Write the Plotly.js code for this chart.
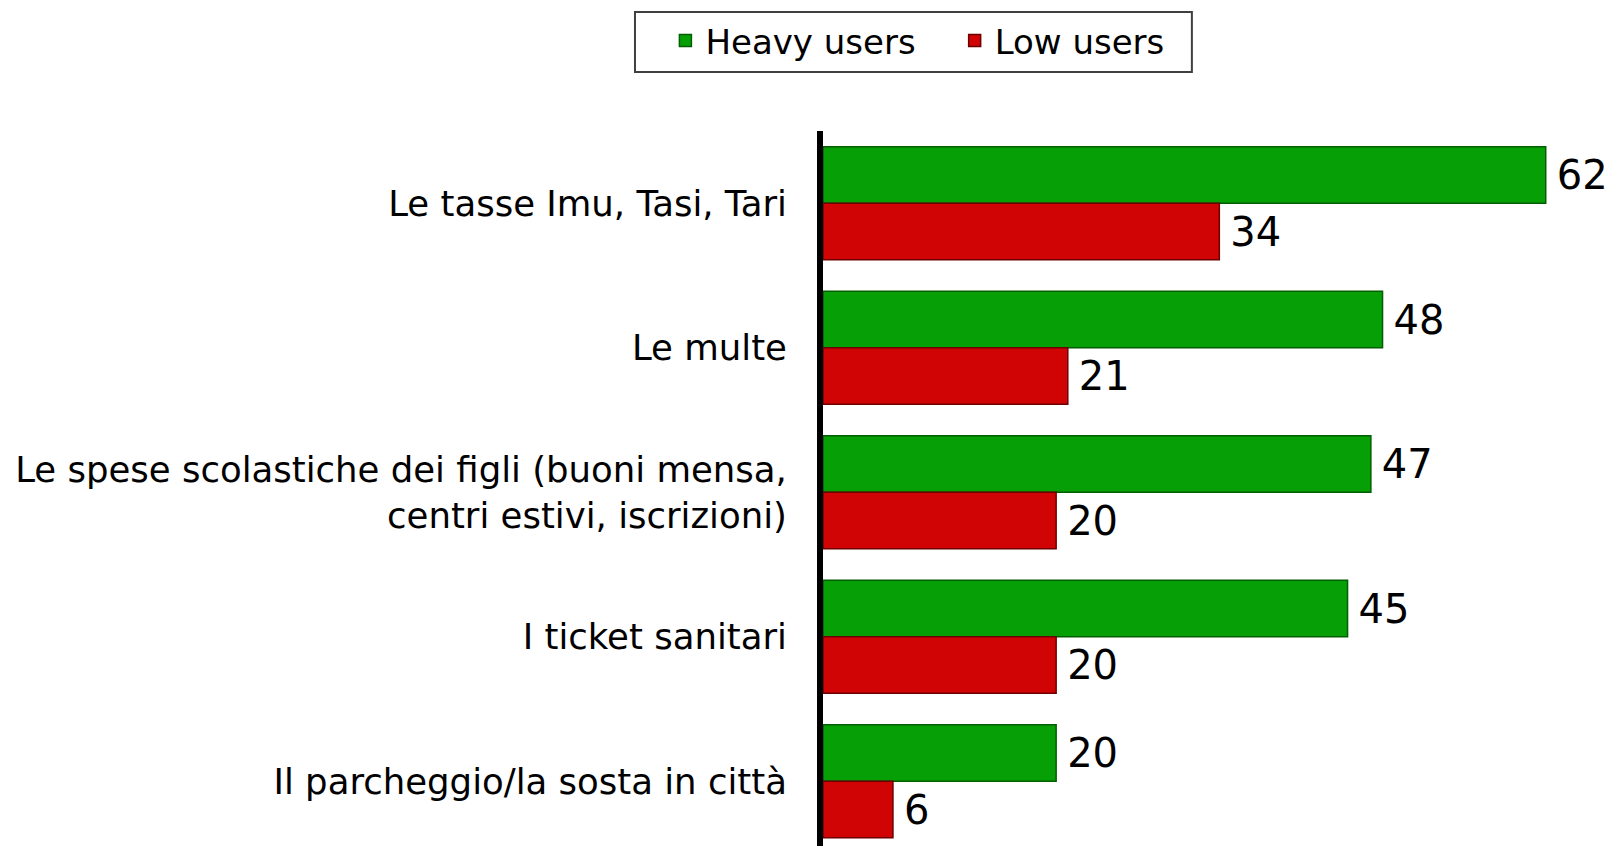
<!DOCTYPE html>
<html>
<head>
<meta charset="utf-8">
<script src="https://cdn.plot.ly/plotly-3.0.1.min.js"></script>
<style>
  html, body { margin: 0; padding: 0; background: #fff; }
  #chart { width: 1618px; height: 846px; }
</style>
</head>
<body>
<div id="chart"></div>
<script>
var categories = [
  'Le tasse Imu, Tasi, Tari',
  'Le multe',
  'Le spese scolastiche dei figli (buoni mensa,<br>centri estivi, iscrizioni)',
  'I ticket sanitari',
  'Il parcheggio/la sosta in città'
];
var heavyUsers = [62, 48, 47, 45, 20];
var lowUsers = [34, 21, 20, 20, 6];

var font = '"DejaVu Sans", sans-serif';
var pad = '\u2009';

var heavy = {
  type: 'bar',
  orientation: 'h',
  name: 'Heavy users\u2003',
  y: categories,
  x: heavyUsers,
  text: heavyUsers.map(function (v) { return pad + v; }),
  textposition: 'outside',
  constraintext: 'none',
  cliponaxis: false,
  textfont: {size: 40, color: '#000', family: font},
  marker: {color: '#06a006', line: {color: '#035e03', width: 1.5}},
  hoverinfo: 'x+name'
};

var low = {
  type: 'bar',
  orientation: 'h',
  name: 'Low users',
  y: categories,
  x: lowUsers,
  text: lowUsers.map(function (v) { return pad + v; }),
  textposition: 'outside',
  constraintext: 'none',
  cliponaxis: false,
  textfont: {size: 40, color: '#000', family: font},
  marker: {color: '#d00404', line: {color: '#6e0000', width: 1.5}},
  hoverinfo: 'x+name'
};

var layout = {
  width: 1618,
  height: 846,
  margin: {l: 823, r: 0, t: 131, b: 0},
  paper_bgcolor: '#fff',
  plot_bgcolor: '#fff',
  font: {family: font, color: '#000', size: 35},
  barmode: 'group',
  bargap: 0.218,
  bargroupgap: 0,
  showlegend: true,
  legend: {
    orientation: 'h',
    xref: 'container',
    yref: 'container',
    x: 0.567,
    xanchor: 'center',
    y: 0.986,
    yanchor: 'top',
    borderwidth: 0,
    bgcolor: 'rgba(0,0,0,0)',
    font: {size: 34, family: font},
    traceorder: 'normal'
  },
  // legend frame drawn as a shape so it can be wider than the items
  shapes: [{
    type: 'rect',
    xref: 'paper',
    yref: 'paper',
    x0: -0.2365,
    x1: 0.464,
    y0: 1.0825,
    y1: 1.1664,
    line: {color: '#404040', width: 2},
    fillcolor: 'rgba(0,0,0,0)'
  }],
  xaxis: {
    range: [0, 68.2],
    showgrid: false,
    zeroline: false,
    showticklabels: false,
    showline: false
  },
  yaxis: {
    type: 'category',
    range: [4.448, -0.5],
    showgrid: false,
    zeroline: false,
    showline: true,
    linecolor: '#000',
    linewidth: 6,
    ticks: '',
    ticklabelstandoff: 23,
    tickfont: {size: 35.5, family: font}
  }
};

Plotly.newPlot('chart', [heavy, low], layout, {displayModeBar: false, staticPlot: true});
</script>
</body>
</html>
